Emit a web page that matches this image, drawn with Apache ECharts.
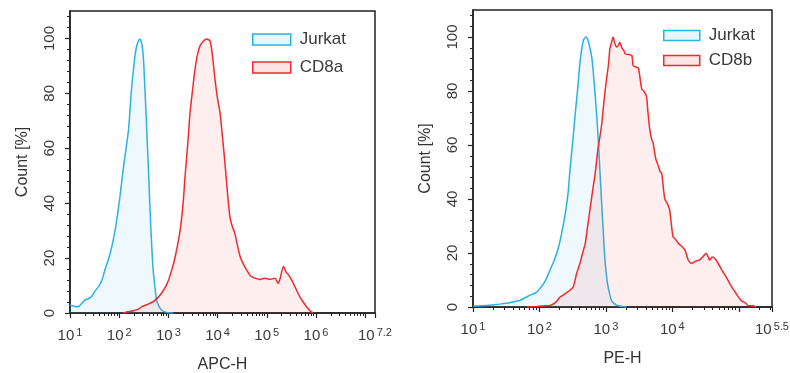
<!DOCTYPE html>
<html><head><meta charset="utf-8">
<script src="https://cdn.jsdelivr.net/npm/echarts@6/dist/echarts.min.js"></script>
<style>html,body{margin:0;padding:0;background:#fff}#c{width:790px;height:373px}</style>
</head><body><div id="c"></div>
<script>
// x values are log10 of fluorescence height; y values are Count [%]
const apcJurkatX = [1.00,1.10,1.17,1.24,1.30,1.37,1.44,1.50,1.58,1.65,1.71,1.78,1.85,1.92,1.98,2.03,2.08,2.14,2.19,2.22,2.25,2.29,2.32,2.36,2.42,2.46,2.49,2.52,2.56,2.60,2.63,2.66,2.69,2.73,2.76,2.81,2.86,2.93,3.00,3.10];
const apcJurkatY = [2.9,2.4,2.3,3.5,4.7,5.2,6.0,7.8,9.6,12.0,15.7,19.5,24.2,30.5,37.6,44.5,52.2,60,66.8,74,81.4,88.5,93.5,97.5,99.8,98,93.5,83,66.8,50,36.4,25,15.7,9,4.7,2.4,1.1,0.4,0.1,0];
const apcCD8aX = [2.08,2.15,2.29,2.40,2.46,2.56,2.69,2.78,2.86,2.97,3.07,3.15,3.24,3.30,3.34,3.40,3.44,3.49,3.54,3.59,3.64,3.71,3.78,3.85,3.90,3.95,4.00,4.05,4.10,4.15,4.20,4.25,4.30,4.35,4.40,4.46,4.52,4.59,4.67,4.76,4.86,4.96,5.07,5.17,5.23,5.27,5.34,5.39,5.44,5.49,5.54,5.60,5.67,5.74,5.81,5.86,5.91,5.95];
const apcCD8aY = [0,0.4,0.8,1.5,2.3,3.0,4.1,5.5,7.2,10.5,15.7,21.5,30.3,40,50,63,72.9,81,88.7,94,97.2,99,99.8,99,93,84.7,78,72.9,64,54.6,44,35.1,31.5,29.1,25,20.5,18,15.7,13.5,12.7,12.2,12.7,12.3,12.7,10.8,12.5,16.9,15,13.9,12.5,10.8,8.5,6.0,4.0,2.3,1.2,0.3,0];
const peJurkatX = [1.00,1.21,1.35,1.46,1.55,1.63,1.71,1.79,1.86,1.94,2.01,2.09,2.16,2.23,2.29,2.34,2.39,2.43,2.46,2.50,2.54,2.58,2.61,2.66,2.70,2.74,2.79,2.84,2.87,2.89,2.92,2.96,2.99,3.02,3.05,3.09,3.16,3.22,3.31];
const peJurkatY = [0.4,0.6,0.9,1.3,1.6,2.0,2.5,3.5,4.4,5.2,6.9,9.8,13.7,17.8,22.4,28,34.8,42,50.9,61,72,82,90.7,98.7,100,98,92,78.2,68,59.6,46,28,16.2,9.5,5.5,2.2,0.7,0.3,0];
const peCD8bX = [1.81,1.96,2.06,2.16,2.24,2.31,2.38,2.46,2.51,2.56,2.61,2.65,2.69,2.72,2.76,2.80,2.84,2.88,2.91,2.94,2.97,3.01,3.04,3.06,3.09,3.11,3.13,3.16,3.19,3.21,3.24,3.27,3.29,3.34,3.39,3.41,3.44,3.46,3.49,3.54,3.57,3.61,3.63,3.66,3.69,3.71,3.75,3.79,3.82,3.84,3.87,3.89,3.93,3.96,4.01,4.05,4.09,4.14,4.19,4.24,4.29,4.35,4.41,4.46,4.51,4.54,4.56,4.60,4.64,4.69,4.75,4.81,4.88,4.96,5.03,5.11,5.14,5.20,5.26];
const peCD8bY = [0,0.2,0.4,0.6,1.6,3.7,4.8,6.2,7.5,12.4,16.2,20,23.6,29,36,43,49.7,58.4,63,68.3,76,84.5,90,95.6,98.5,100,98,96.3,97,98.1,96,95,93.8,93.5,93.2,89.4,89,88.8,88.5,80.7,80,78.2,73,65.8,62,60.9,55,52.2,50,49.7,43,39.8,38,36,26.1,25,23.6,22.5,21.1,17.4,16.2,17,17.4,18.6,19.9,18.5,17.4,18.5,18,16.2,13.5,11.2,8,5,2.5,1.3,0.5,0.5,0];
const yMajorTicks = [0,20,40,60,80,100];
const yMinorTicks = [4,8,12,16,24,28,32,36,44,48,52,56,64,68,72,76,84,88,92,96,104,108];
const apcRange = [1, 7.2];
const peRange = [1, 5.5];
const apcLabels = [1,2,3,4,5,6,7.2];
const peLabels = [1,2,3,4,5.5];
const legendNames = {left:['Jurkat','CD8a'], right:['Jurkat','CD8b']};

const BLUE = '#2ab2e4', RED = '#f02a2e';
const BLUE_FILL = 'rgba(90,190,235,0.15)', RED_FILL = 'rgba(245,70,70,0.13)';
const FONT = '"Liberation Sans", Arial, sans-serif';
const TXT = '#3a3a3a';

function zip(xs, ys){ return xs.map((x,i)=>[x, ys[i]]); }
function majorX(r){ const a=[]; for(let e=Math.ceil(r[0]); e<=r[1]; e++) a.push(e); if (a[a.length-1] !== r[1]) a.push(r[1]); return a; }
function minorX(r){ const a=[]; for(let e=Math.floor(r[0]); e<r[1]; e++){ for(let k=2;k<=9;k++){ const v=e+Math.log10(k); if(v>r[0]&&v<r[1]) a.push(v);} } return a; }

function xAxes(gi, r, labels, name){
  return [{
    gridIndex: gi, type:'value', min:r[0], max:r[1], interval:1,
    name: name, nameLocation:'middle', nameGap: 44,
    nameTextStyle:{fontFamily:FONT, fontSize:16, color:'#333'},
    axisLine:{lineStyle:{color:'#222', width:1.5}},
    axisTick:{customValues: majorX(r), length:5, lineStyle:{color:'#222', width:1.2}},
    axisLabel:{customValues: labels, margin: 14, fontFamily:FONT,
      formatter: v => '{b|10}{s|' + (Math.round(v*10)/10) + '}',
      rich:{ b:{fontSize:15, color:TXT, fontFamily:FONT, lineHeight:18},
             s:{fontSize:11, color:TXT, fontFamily:FONT, verticalAlign:'top', padding:[0,0,0,2], lineHeight:12} } },
    splitLine:{show:false}
  },{
    gridIndex: gi, type:'value', min:r[0], max:r[1], interval:1, position:'bottom',
    axisLine:{show:false}, axisLabel:{show:false}, splitLine:{show:false},
    axisTick:{customValues: minorX(r), length:3, lineStyle:{color:'#222', width:1}}
  }];
}
function yAxes(gi){
  return [{
    gridIndex: gi, type:'value', min:0, max:110, interval:20,
    name:'Count [%]', nameLocation:'middle', nameGap: 39,
    nameTextStyle:{fontFamily:FONT, fontSize:16, color:'#333'},
    axisLine:{show:true, lineStyle:{color:'#222', width:1.5}},
    axisTick:{show:true, customValues: yMajorTicks, length:5, lineStyle:{color:'#222', width:1.2}},
    axisLabel:{customValues: yMajorTicks, rotate:90, margin:13, fontFamily:FONT, fontSize:15, color:TXT},
    splitLine:{show:false}
  },{
    gridIndex: gi, type:'value', min:0, max:110, position:'left',
    axisLine:{show:false}, axisLabel:{show:false}, splitLine:{show:false},
    axisTick:{show:true, customValues: yMinorTicks, length:3, lineStyle:{color:'#222', width:1}}
  }];
}
function series(name, data, xi, yi, color, fill, z){
  return {name, type:'line', data, xAxisIndex:xi, yAxisIndex:yi, symbol:'none', smooth:0.25,
    lineStyle:{color, width:1.5}, itemStyle:{color}, areaStyle:{color:fill}, z};
}
function legend(names, left, top, w, h, gap){
  return {orient:'vertical', left, top, padding:0, itemWidth:w, itemHeight:h, itemGap:gap, selectedMode:false,
    textStyle:{fontFamily:FONT, fontSize:17, color:TXT, lineHeight:14, padding:[0,0,0,4]},
    data:[{name:names[0], icon:'rect', itemStyle:{color:'#e6f6fd', borderColor:BLUE, borderWidth:1.5}},
          {name:names[1], icon:'rect', itemStyle:{color:'#fde5e5', borderColor:RED, borderWidth:1.5}}]};
}

const chart = echarts.init(document.getElementById('c'), null, {renderer:'canvas'});
const la = xAxes(0, apcRange, apcLabels, 'APC-H');
const ra = xAxes(1, peRange, peLabels, 'PE-H');
chart.setOption({
  animation:false,
  backgroundColor:'#fff',
  grid:[
    {left:70, top:11, width:305, height:302, outerBoundsMode:'none', containLabel:false, show:true, borderColor:'#222', borderWidth:1.5, backgroundColor:'transparent'},
    {left:473, top:10, width:299, height:297, outerBoundsMode:'none', containLabel:false, show:true, borderColor:'#222', borderWidth:1.5, backgroundColor:'transparent'}
  ],
  xAxis:[...la, ...ra],
  yAxis:[...yAxes(0), ...yAxes(1)],
  legend:[ legend(legendNames.left, 252, 31, 38, 11, 11), legend(legendNames.right, 663, 27, 36, 10, 8) ],
  series:[
    series('Jurkat', zip(apcJurkatX, apcJurkatY), 0, 0, BLUE, BLUE_FILL, 2),
    series('CD8a', zip(apcCD8aX, apcCD8aY), 0, 0, RED, RED_FILL, 3),
    series('Jurkat', zip(peJurkatX, peJurkatY), 2, 2, BLUE, BLUE_FILL, 2),
    series('CD8b', zip(peCD8bX, peCD8bY), 2, 2, RED, RED_FILL, 3)
  ]
});
</script></body></html>
